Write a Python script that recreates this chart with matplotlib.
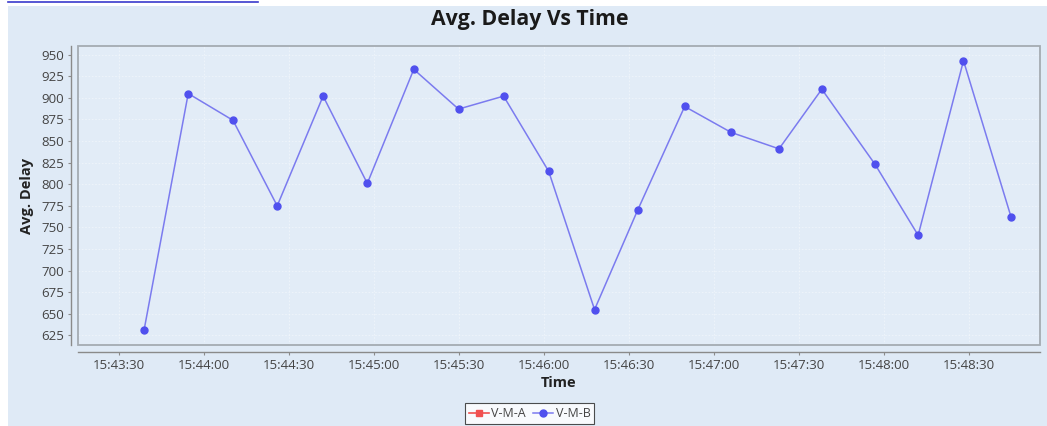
import matplotlib
matplotlib.use("Agg")
import matplotlib.pyplot as plt
import matplotlib.dates as mdates
from matplotlib.patches import Rectangle
from matplotlib.lines import Line2D
import pandas as pd

times = ["15:43:38.8", "15:43:54.4", "15:44:10.2", "15:44:25.8", "15:44:42.0",
         "15:44:57.6", "15:45:14.0", "15:45:29.8", "15:45:45.7", "15:46:01.6",
         "15:46:17.8", "15:46:33.0", "15:46:49.6", "15:47:06.0", "15:47:22.9",
         "15:47:38.0", "15:47:56.8", "15:48:12.0", "15:48:28.0", "15:48:44.8"]
vmb_values = [631, 905, 874, 775, 902, 801, 933, 887, 902, 815,
              655, 770, 890, 860, 841, 910, 823, 741, 943, 762]
vma_values = []
series_names = ["V-M-A", "V-M-B"]
y_ticks = list(range(625, 951, 25))
x_min, x_max = "15:43:15.5", "15:48:55.0"
y_min, y_max = 614, 960

day = "2020-01-01 "
t = pd.to_datetime([day + s for s in times])

plt.rcParams['font.family'] = ['Open Sans', 'DejaVu Sans']
bg = "#dfeaf6"
fig = plt.figure(figsize=(10.47, 4.26), dpi=100, facecolor="white")
fig.patches.append(Rectangle((8 / 1047, 0), 1 - 8 / 1047, 1 - 6 / 426,
                             transform=fig.transFigure, facecolor=bg,
                             edgecolor="none", zorder=-10))
fig.add_artist(Line2D([8 / 1047, 258 / 1047], [1 - 2 / 426, 1 - 2 / 426],
                      color="#3a3acc", lw=1.2))

ax = fig.add_axes([78 / 1047, 1 - 345 / 426, (1040 - 78) / 1047, (345 - 46) / 426])
ax.set_facecolor("#e2ecf7")

ax.plot([], [], color="#f05050", marker="s", markersize=5, lw=1.2, label=series_names[0])
ax.plot(t, vmb_values, color="#7b7bef", lw=1.1, marker="o", markersize=5,
        markerfacecolor="#5050ee", markeredgecolor="#5050ee", label=series_names[1])

ax.set_xlim(pd.Timestamp(day + x_min), pd.Timestamp(day + x_max))
ax.set_ylim(y_min, y_max)
ax.set_yticks(y_ticks)
ax.xaxis.set_major_locator(mdates.SecondLocator(bysecond=[0, 30]))
ax.xaxis.set_major_formatter(mdates.DateFormatter("%H:%M:%S"))

ax.grid(True, color="white", lw=0.6, ls=(0, (2, 2)), alpha=0.45)
ax.set_axisbelow(True)

for side in ["top", "right"]:
    ax.spines[side].set_visible(False)
for side in ["left", "bottom"]:
    ax.spines[side].set_position(("outward", 5))
    ax.spines[side].set_color("#8a8a8a")
    ax.spines[side].set_linewidth(1.0)
ax.add_patch(Rectangle((0, 0), 1, 1, transform=ax.transAxes, fill=False,
                       edgecolor="#a4abb2", lw=1.3, clip_on=False, zorder=5))

ax.tick_params(axis="both", colors="#8a8a8a", labelcolor="#444444",
               labelsize=9.5, length=2, width=0.8, pad=3)

ax.set_xlabel("Time", fontsize=10.5, fontweight="bold", color="#222222", labelpad=3)
ax.set_ylabel("Avg. Delay", fontsize=10.5, fontweight="bold", color="#222222", labelpad=5)
fig.text(0.506, 1 - 20 / 426, "Avg. Delay Vs Time", ha="center", va="center",
         fontsize=15.3, fontweight="bold", color="#1a1a1a")

leg = fig.legend(loc="upper center", bbox_to_anchor=(0.506, 1 - 397 / 426),
                 ncol=2, frameon=True, fontsize=9, handlelength=1.6,
                 handletextpad=0.2, columnspacing=0.6, borderpad=0.3,
                 fancybox=False, labelcolor="#444444")
leg.get_frame().set_edgecolor("#222222")
leg.get_frame().set_linewidth(0.8)
leg.get_frame().set_facecolor("white")

fig.savefig("out.png", dpi=100, facecolor=fig.get_facecolor())
